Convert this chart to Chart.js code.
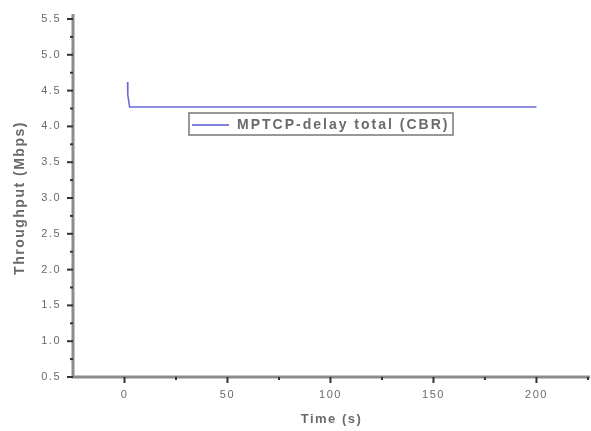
<!DOCTYPE html>
<html>
<head>
<meta charset="utf-8">
<title>MPTCP throughput</title>
<script src="https://cdn.jsdelivr.net/npm/chart.js@4/dist/chart.umd.min.js"></script>
<style>
  html, body { margin: 0; padding: 0; background: #fff; }
  #wrap { width: 591px; height: 431px; }
</style>
</head>
<body>
<div id="wrap"><canvas id="myChart" width="591" height="431"></canvas></div>
<script>
// Throughput samples of the MPTCP-delay total (CBR) flow
const timeSec = [1.5, 1.6, 2.5, 10, 20, 30, 40, 50, 60, 70, 80, 90, 100, 110, 120, 130, 140, 150, 160, 170, 180, 190, 200];
const throughputMbps = [4.62, 4.44, 4.27, 4.27, 4.27, 4.27, 4.27, 4.27, 4.27, 4.27, 4.27, 4.27, 4.27, 4.27, 4.27, 4.27, 4.27, 4.27, 4.27, 4.27, 4.27, 4.27, 4.27];
const seriesLabel = 'MPTCP-delay total (CBR)';

const xTicks = [0, 50, 100, 150, 200];
const xMinorTicks = [25, 75, 125, 175, 225];
const yTicks = [0.5, 1.0, 1.5, 2.0, 2.5, 3.0, 3.5, 4.0, 4.5, 5.0, 5.5];
const yMinorTicks = [0.75, 1.25, 1.75, 2.25, 2.75, 3.25, 3.75, 4.25, 4.75, 5.25];

const lineColor = '#6a6ad8';
const axisColor = '#8c8c8c';
const textColor = '#6a6a6a';
const fontFamily = '"Liberation Sans", Arial, sans-serif';

// wide, print-like spacing for all labels (canvas resize wipes ctx state, so set it per draw)
const wideText = {
    id: 'wideText',
    beforeDraw(chart) {
        chart.ctx.letterSpacing = '1.5px';
    }
};

// axis lines, tick marks and the boxed legend
const originAxes = {
    id: 'originAxes',
    afterDraw(chart) {
        const ctx = chart.ctx;
        const xs = chart.scales.x;
        const ys = chart.scales.y;
        const area = chart.chartArea;
        ctx.save();

        ctx.strokeStyle = axisColor;
        ctx.lineWidth = 3;
        ctx.beginPath();
        ctx.moveTo(area.left, area.top - 5);
        ctx.lineTo(area.left, area.bottom);
        ctx.lineTo(area.right, area.bottom);
        ctx.stroke();

        ctx.strokeStyle = '#333';
        ctx.lineWidth = 2;
        yTicks.forEach(v => {
            const py = ys.getPixelForValue(v);
            ctx.beginPath();
            ctx.moveTo(area.left - 6, py);
            ctx.lineTo(area.left, py);
            ctx.stroke();
        });
        yMinorTicks.forEach(v => {
            const py = ys.getPixelForValue(v);
            ctx.beginPath();
            ctx.moveTo(area.left - 3, py);
            ctx.lineTo(area.left, py);
            ctx.stroke();
        });
        xTicks.forEach(v => {
            const px = xs.getPixelForValue(v);
            ctx.beginPath();
            ctx.moveTo(px, area.bottom);
            ctx.lineTo(px, area.bottom + 6);
            ctx.stroke();
        });
        xMinorTicks.forEach(v => {
            const px = xs.getPixelForValue(v);
            if (px > area.right) return;
            ctx.beginPath();
            ctx.moveTo(px, area.bottom);
            ctx.lineTo(px, area.bottom + 3);
            ctx.stroke();
        });

        // legend box
        const lx = 189, ly = 113, lw = 264, lh = 22;
        ctx.fillStyle = '#fff';
        ctx.fillRect(lx, ly, lw, lh);
        ctx.strokeStyle = '#777';
        ctx.lineWidth = 1.5;
        ctx.strokeRect(lx, ly, lw, lh);
        ctx.strokeStyle = '#8080e0';
        ctx.lineWidth = 2;
        ctx.beginPath();
        ctx.moveTo(lx + 3, ly + lh / 2 + 1);
        ctx.lineTo(lx + 40, ly + lh / 2 + 1);
        ctx.stroke();
        ctx.fillStyle = textColor;
        ctx.font = 'bold 14px ' + fontFamily;
        ctx.letterSpacing = '2px';
        ctx.textBaseline = 'middle';
        ctx.fillText(chart.data.datasets[0].label, lx + 48, ly + lh / 2 + 1);

        ctx.restore();
    }
};

const ctx = document.getElementById('myChart').getContext('2d');

const myChart = new Chart(ctx, {
    type: 'line',
    data: {
        datasets: [{
            label: seriesLabel,
            data: timeSec.map((t, i) => ({ x: t, y: throughputMbps[i] })),
            borderColor: lineColor,
            borderWidth: 1.6,
            pointRadius: 0,
            tension: 0,
            fill: false
        }]
    },
    options: {
        responsive: false,
        animation: false,
        layout: { padding: { top: 19, right: 1, left: 0, bottom: 0 } },
        plugins: {
            legend: { display: false },
            tooltip: { enabled: false }
        },
        scales: {
            x: {
                type: 'linear',
                min: -25,
                max: 226,
                afterBuildTicks: scale => { scale.ticks = xTicks.map(v => ({ value: v })); },
                afterFit: scale => { scale.height = 54; },
                grid: { display: false },
                border: { display: false },
                ticks: {
                    color: textColor,
                    font: { size: 11, family: fontFamily },
                    padding: 3,
                    maxRotation: 0
                },
                title: {
                    display: true,
                    text: 'Time (s)',
                    color: textColor,
                    font: { size: 13, weight: 'bold', family: fontFamily },
                    padding: { top: 17 }
                }
            },
            y: {
                min: 0.5,
                max: 5.5,
                afterBuildTicks: scale => { scale.ticks = yTicks.map(v => ({ value: v })); },
                afterFit: scale => { scale.width = 73; },
                grid: { display: false },
                border: { display: false },
                ticks: {
                    color: textColor,
                    font: { size: 11, family: fontFamily },
                    padding: 4,
                    callback: v => v.toFixed(1)
                },
                title: {
                    display: true,
                    text: 'Throughput (Mbps)',
                    color: textColor,
                    font: { size: 14, weight: 'bold', family: fontFamily },
                    padding: { top: 12, bottom: 0 }
                }
            }
        }
    },
    plugins: [wideText, originAxes]
});
</script>
</body>
</html>
